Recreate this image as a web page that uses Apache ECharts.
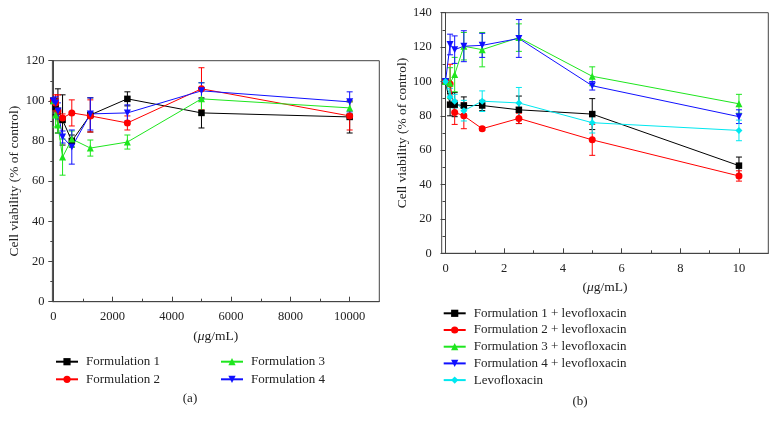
<!DOCTYPE html>
<html>
<head>
<meta charset="utf-8">
<script src="https://cdn.jsdelivr.net/npm/echarts@6/dist/echarts.min.js"></script>
<style>html,body{margin:0;padding:0;background:#fff}#c{width:777px;height:428px}</style>
</head>
<body>
<div id="c"></div>
<script>
// ---- Panel (a) data ----
const leftDoses = [0, 78, 156, 312.5, 625, 1250, 2500, 5000, 10000];
const f1 = [100, 97, 95, 90.5, 80, 93, 101, 94, 92];
const f1Err = [0, 4, 11, 12.5, 3, 8.5, 3.5, 7.5, 8];
const f2 = [100, 99, 95, 91.5, 94, 92.5, 89, 106, 92.5];
const f2Err = [0, 4, 8, 2, 6.5, 8, 3.5, 10.5, 7];
const f3 = [100, 93, 88, 72, 81, 76.5, 79.5, 101, 96.5];
const f3Err = [0, 6, 4, 9, 4, 4, 3.5, 8, 3];
const f4 = [100, 99, 95, 82, 77, 93.5, 94, 105, 99.5];
const f4Err = [0, 3, 4, 3, 8.5, 8, 4, 4, 5];
const leftXTicks = [0, 2000, 4000, 6000, 8000, 10000];
const leftXMinor = [1000, 3000, 5000, 7000, 9000];
const leftNames = ['Formulation 1', 'Formulation 2', 'Formulation 3', 'Formulation 4'];

// ---- Panel (b) data ----
const rightDoses = [0, 0.156, 0.3125, 0.625, 1.25, 2.5, 5, 10];
const f1L = [100, 86.5, 86.5, 86, 86, 83.5, 81, 51];
const f1LErr = [0, 6.5, 7, 5, 3, 8, 9, 5];
const f2L = [100, 98.5, 82, 80, 72.5, 78.5, 66, 45];
const f2LErr = [0, 11.5, 7, 7.5, 1, 3, 9, 3];
const f3L = [100, 99, 104, 120.5, 118.5, 125.5, 103, 87];
const f3LErr = [0, 9, 10, 8, 10, 8, 5.5, 5.5];
const f4L = [100, 121.5, 118.5, 120.5, 121, 125, 97.5, 79.5];
const f4LErr = [0, 6, 8, 9, 7, 11, 2.5, 4];
const levo = [100, 91, 88.5, 83, 88.5, 87.5, 76, 71.5];
const levoErr = [0, 5, 4, 6, 6, 9, 6, 6];
const rightXTicks = [0, 2, 4, 6, 8, 10];
const rightXMinor = [1, 3, 5, 7, 9];
const rightNames = ['Formulation 1 + levofloxacin', 'Formulation 2 + levofloxacin',
  'Formulation 3 + levofloxacin', 'Formulation 4 + levofloxacin', 'Levofloxacin'];

const FONT = 'Liberation Serif';
const AX = '#444';
const TXT = '#222';
const colors = ['#000000', '#ff0000', '#1ee61e', '#1010ff', '#00e8f0'];
const symbols = ['rect', 'circle', 'triangle', 'triangle', 'diamond'];
const rotates = [0, 0, 0, 180, 0];

function errRender(color) {
  return function (params, api) {
    const x = api.value(0), y = api.value(1), e = api.value(2);
    if (!e) return null;
    const t = api.coord([x, y + e]), b = api.coord([x, y - e]);
    const w = 3;
    const st = { stroke: color, lineWidth: 1 };
    return { type: 'group', children: [
      { type: 'line', shape: { x1: t[0], y1: t[1], x2: b[0], y2: b[1] }, style: st },
      { type: 'line', shape: { x1: t[0] - w, y1: t[1], x2: t[0] + w, y2: t[1] }, style: st },
      { type: 'line', shape: { x1: b[0] - w, y1: b[1], x2: b[0] + w, y2: b[1] }, style: st }
    ]};
  };
}

function makeSeries(name, xs, ys, errs, idx, xAxisIndex, yAxisIndex) {
  const c = colors[idx];
  return [
    { type: 'custom', name: name + ' err', xAxisIndex, yAxisIndex, silent: true,
      encode: { x: 0, y: 1 }, renderItem: errRender(c),
      data: xs.map((x, i) => [x, ys[i], errs[i]]) },
    { type: 'line', name, xAxisIndex, yAxisIndex, symbol: symbols[idx], symbolRotate: rotates[idx],
      symbolSize: idx === 0 ? 6.5 : 7, showAllSymbol: true,
      lineStyle: { width: 1, color: c }, itemStyle: { color: c },
      data: xs.map((x, i) => [x, ys[i]]) }
  ];
}

const series = [].concat(
  makeSeries(leftNames[0], leftDoses, f1, f1Err, 0, 0, 0),
  makeSeries(leftNames[1], leftDoses, f2, f2Err, 1, 0, 0),
  makeSeries(leftNames[2], leftDoses, f3, f3Err, 2, 0, 0),
  makeSeries(leftNames[3], leftDoses, f4, f4Err, 3, 0, 0),
  makeSeries(rightNames[0], rightDoses, f1L, f1LErr, 0, 2, 1),
  makeSeries(rightNames[1], rightDoses, f2L, f2LErr, 1, 2, 1),
  makeSeries(rightNames[2], rightDoses, f3L, f3LErr, 2, 2, 1),
  makeSeries(rightNames[3], rightDoses, f4L, f4LErr, 3, 2, 1),
  makeSeries(rightNames[4], rightDoses, levo, levoErr, 4, 2, 1)
);

const labelStyle = { fontFamily: FONT, fontSize: 12.5, color: TXT };
const unitName = '(' + '{i|μ}' + 'g/mL)';
const unitStyle = { fontFamily: FONT, fontSize: 13.5, color: TXT,
  rich: { i: { fontFamily: FONT, fontStyle: 'italic', fontSize: 13.5, color: TXT } } };

function majorX(grid, min, max, ticks, gap) {
  return { type: 'value', gridIndex: grid, min, max, position: 'bottom',
    axisLine: { show: true, lineStyle: { color: AX, width: 1 } },
    axisTick: { show: true, inside: true, length: 5, customValues: ticks, lineStyle: { color: AX } },
    axisLabel: Object.assign({ customValues: ticks, margin: 9, formatter: v => String(v) }, labelStyle),
    splitLine: { show: false },
    name: unitName, nameLocation: 'middle', nameGap: gap, nameTextStyle: unitStyle };
}
function minorX(grid, min, max, ticks) {
  return { type: 'value', gridIndex: grid, min, max, position: 'bottom',
    axisLine: { show: false },
    axisTick: { show: true, inside: true, length: 3, customValues: ticks, lineStyle: { color: AX } },
    axisLabel: { show: false }, splitLine: { show: false } };
}
function yAx(grid, max, margin, gap) {
  return { type: 'value', gridIndex: grid, min: 0, max, interval: 20,
    axisLine: { show: true, lineStyle: { color: AX, width: 1 } },
    axisTick: { show: true, inside: false, length: 5, lineStyle: { color: AX } },
    minorTick: { show: true, splitNumber: 2, length: 3, lineStyle: { color: AX } },
    axisLabel: Object.assign({ margin, formatter: v => String(v) }, labelStyle),
    splitLine: { show: false },
    name: 'Cell viability (% of control)', nameLocation: 'middle', nameRotate: 90, nameGap: gap,
    nameTextStyle: { fontFamily: FONT, fontSize: 13.5, color: TXT } };
}

const legendText = { fontFamily: FONT, fontSize: 13, color: TXT, lineHeight: 14, padding: [0, 0, 0, 3] };
function legend(names, left, top, gap) {
  return { data: names, orient: 'vertical', left, top, itemWidth: 22, itemHeight: 9, itemGap: gap,
    textStyle: legendText, selectedMode: false, padding: 0 };
}

const option = {
  animation: false,
  backgroundColor: '#fff',
  grid: [
    { left: 52.4, right: 397.7, top: 60.7, bottom: 126.3, show: true, borderColor: AX, borderWidth: 1, containLabel: false },
    { left: 441.7, right: 8.7, top: 12.7, bottom: 174.7, show: true, borderColor: AX, borderWidth: 1, containLabel: false }
  ],
  xAxis: [
    majorX(0, -30, 11000, leftXTicks, 28),
    minorX(0, -30, 11000, leftXMinor),
    majorX(1, -0.13, 11, rightXTicks, 27),
    minorX(1, -0.13, 11, rightXMinor)
  ],
  yAxis: [ yAx(0, 120, 8, 30.5), yAx(1, 140, 10, 30) ],
  legend: [
    legend(leftNames.slice(0, 2), 55, 354.7, 3.6),
    legend(leftNames.slice(2, 4), 220, 354.7, 3.6),
    legend(rightNames, 442.7, 306.3, 2.7)
  ],
  graphic: [
    { type: 'text', x: 190, y: 399, style: { text: '(a)', font: '13px "Liberation Serif"', fill: TXT, textAlign: 'center', textVerticalAlign: 'middle' } },
    { type: 'text', x: 580, y: 401.5, style: { text: '(b)', font: '13px "Liberation Serif"', fill: TXT, textAlign: 'center', textVerticalAlign: 'middle' } }
  ],
  series
};

const chart = echarts.init(document.getElementById('c'), null, { renderer: 'canvas' });
chart.setOption(option);
</script>
</body>
</html>
